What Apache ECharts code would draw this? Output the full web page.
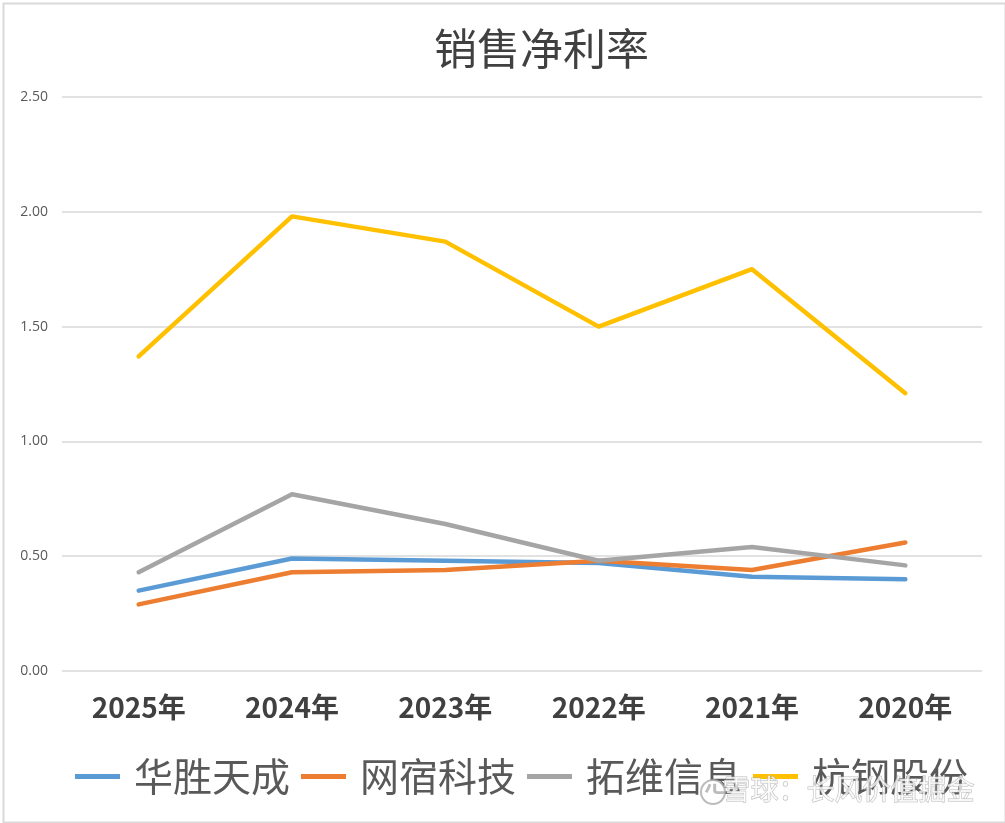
<!DOCTYPE html>
<html>
<head>
<meta charset="utf-8">
<script src="https://cdn.jsdelivr.net/npm/echarts@6/dist/echarts.min.js"></script>
<style>
html,body{margin:0;padding:0;background:#fff;}
#c{width:1005px;height:823px;}
</style>
</head>
<body>
<div id="c"></div>
<script>
const categories = ['2025年','2024年','2023年','2022年','2021年','2020年'];
const seriesNames = ['华胜天成','网宿科技','拓维信息','杭钢股份'];
const huasheng = [0.35, 0.49, 0.48, 0.47, 0.41, 0.40];
const wangsu   = [0.29, 0.43, 0.44, 0.48, 0.44, 0.56];
const tuowei   = [0.43, 0.77, 0.64, 0.48, 0.54, 0.46];
const hanggang = [1.37, 1.98, 1.87, 1.50, 1.75, 1.21];
const yTicks = { min: 0, max: 2.5, interval: 0.5 };
const titleText = '销售净利率';
const watermark = '雪球：长风价值掘金';

const colors = ['#5b9bd5','#ed7d31','#a5a5a5','#ffc000'];
const values = [huasheng, wangsu, tuowei, hanggang];
const cjk = '"Noto Sans CJK SC", "Noto Sans", sans-serif';

const chart = echarts.init(document.getElementById('c'));
chart.setOption({
  backgroundColor: '#ffffff',
  animation: false,
  title: {
    text: titleText,
    left: 429, top: 22,
    textStyle: { fontFamily: cjk, fontSize: 43, fontWeight: 'normal', color: '#404040' }
  },
  grid: { left: 62, right: 23, top: 97, bottom: 152, containLabel: false },
  legend: {
    data: seriesNames,
    left: 70, top: 752,
    icon: 'rect',
    itemWidth: 45, itemHeight: 5,
    itemGap: 11,
    textStyle: { fontFamily: cjk, fontSize: 39, color: '#595959', padding: [0,0,0,9] }
  },
  xAxis: {
    type: 'category',
    data: categories,
    boundaryGap: true,
    axisLine: { show: false },
    axisTick: { show: false },
    axisLabel: { margin: 22, fontFamily: cjk, fontSize: 28, fontWeight: 'bold', color: '#404040' }
  },
  yAxis: {
    type: 'value',
    min: yTicks.min, max: yTicks.max, interval: yTicks.interval,
    axisLine: { show: false },
    axisTick: { show: false },
    axisLabel: { margin: 14, fontFamily: '"Open Sans", "Noto Sans", sans-serif', fontSize: 14, color: '#595959',
      formatter: v => v.toFixed(2) },
    splitLine: { lineStyle: { color: '#d9d9d9', width: 1.5 } }
  },
  series: seriesNames.map((n, i) => ({
    name: n,
    type: 'line',
    data: values[i],
    symbol: 'none',
    smooth: false,
    color: colors[i],
    lineStyle: { width: 4.5, color: colors[i], cap: 'round', join: 'round' },
    z: 2 + i
  })),
  graphic: [
    { type: 'rect', left: 1, top: 1, shape: { width: 1002, height: 819 },
      style: { fill: 'none', stroke: '#d9d9d9', lineWidth: 2 }, silent: true, z: 100 },
    { type: 'circle', left: 700, top: 779, z: 200, silent: true,
      shape: { r: 12 }, style: { fill: 'rgba(255,255,255,0.6)', stroke: 'rgba(170,170,170,0.8)', lineWidth: 2 } },
    { type: 'text', left: 722, top: 775, z: 200, silent: true,
      style: { text: watermark, fontFamily: cjk, fontSize: 28, fill: 'rgba(255,255,255,0.75)',
        stroke: 'rgba(170,170,170,0.8)', lineWidth: 1 } }
  ]
});
</script>
</body>
</html>
